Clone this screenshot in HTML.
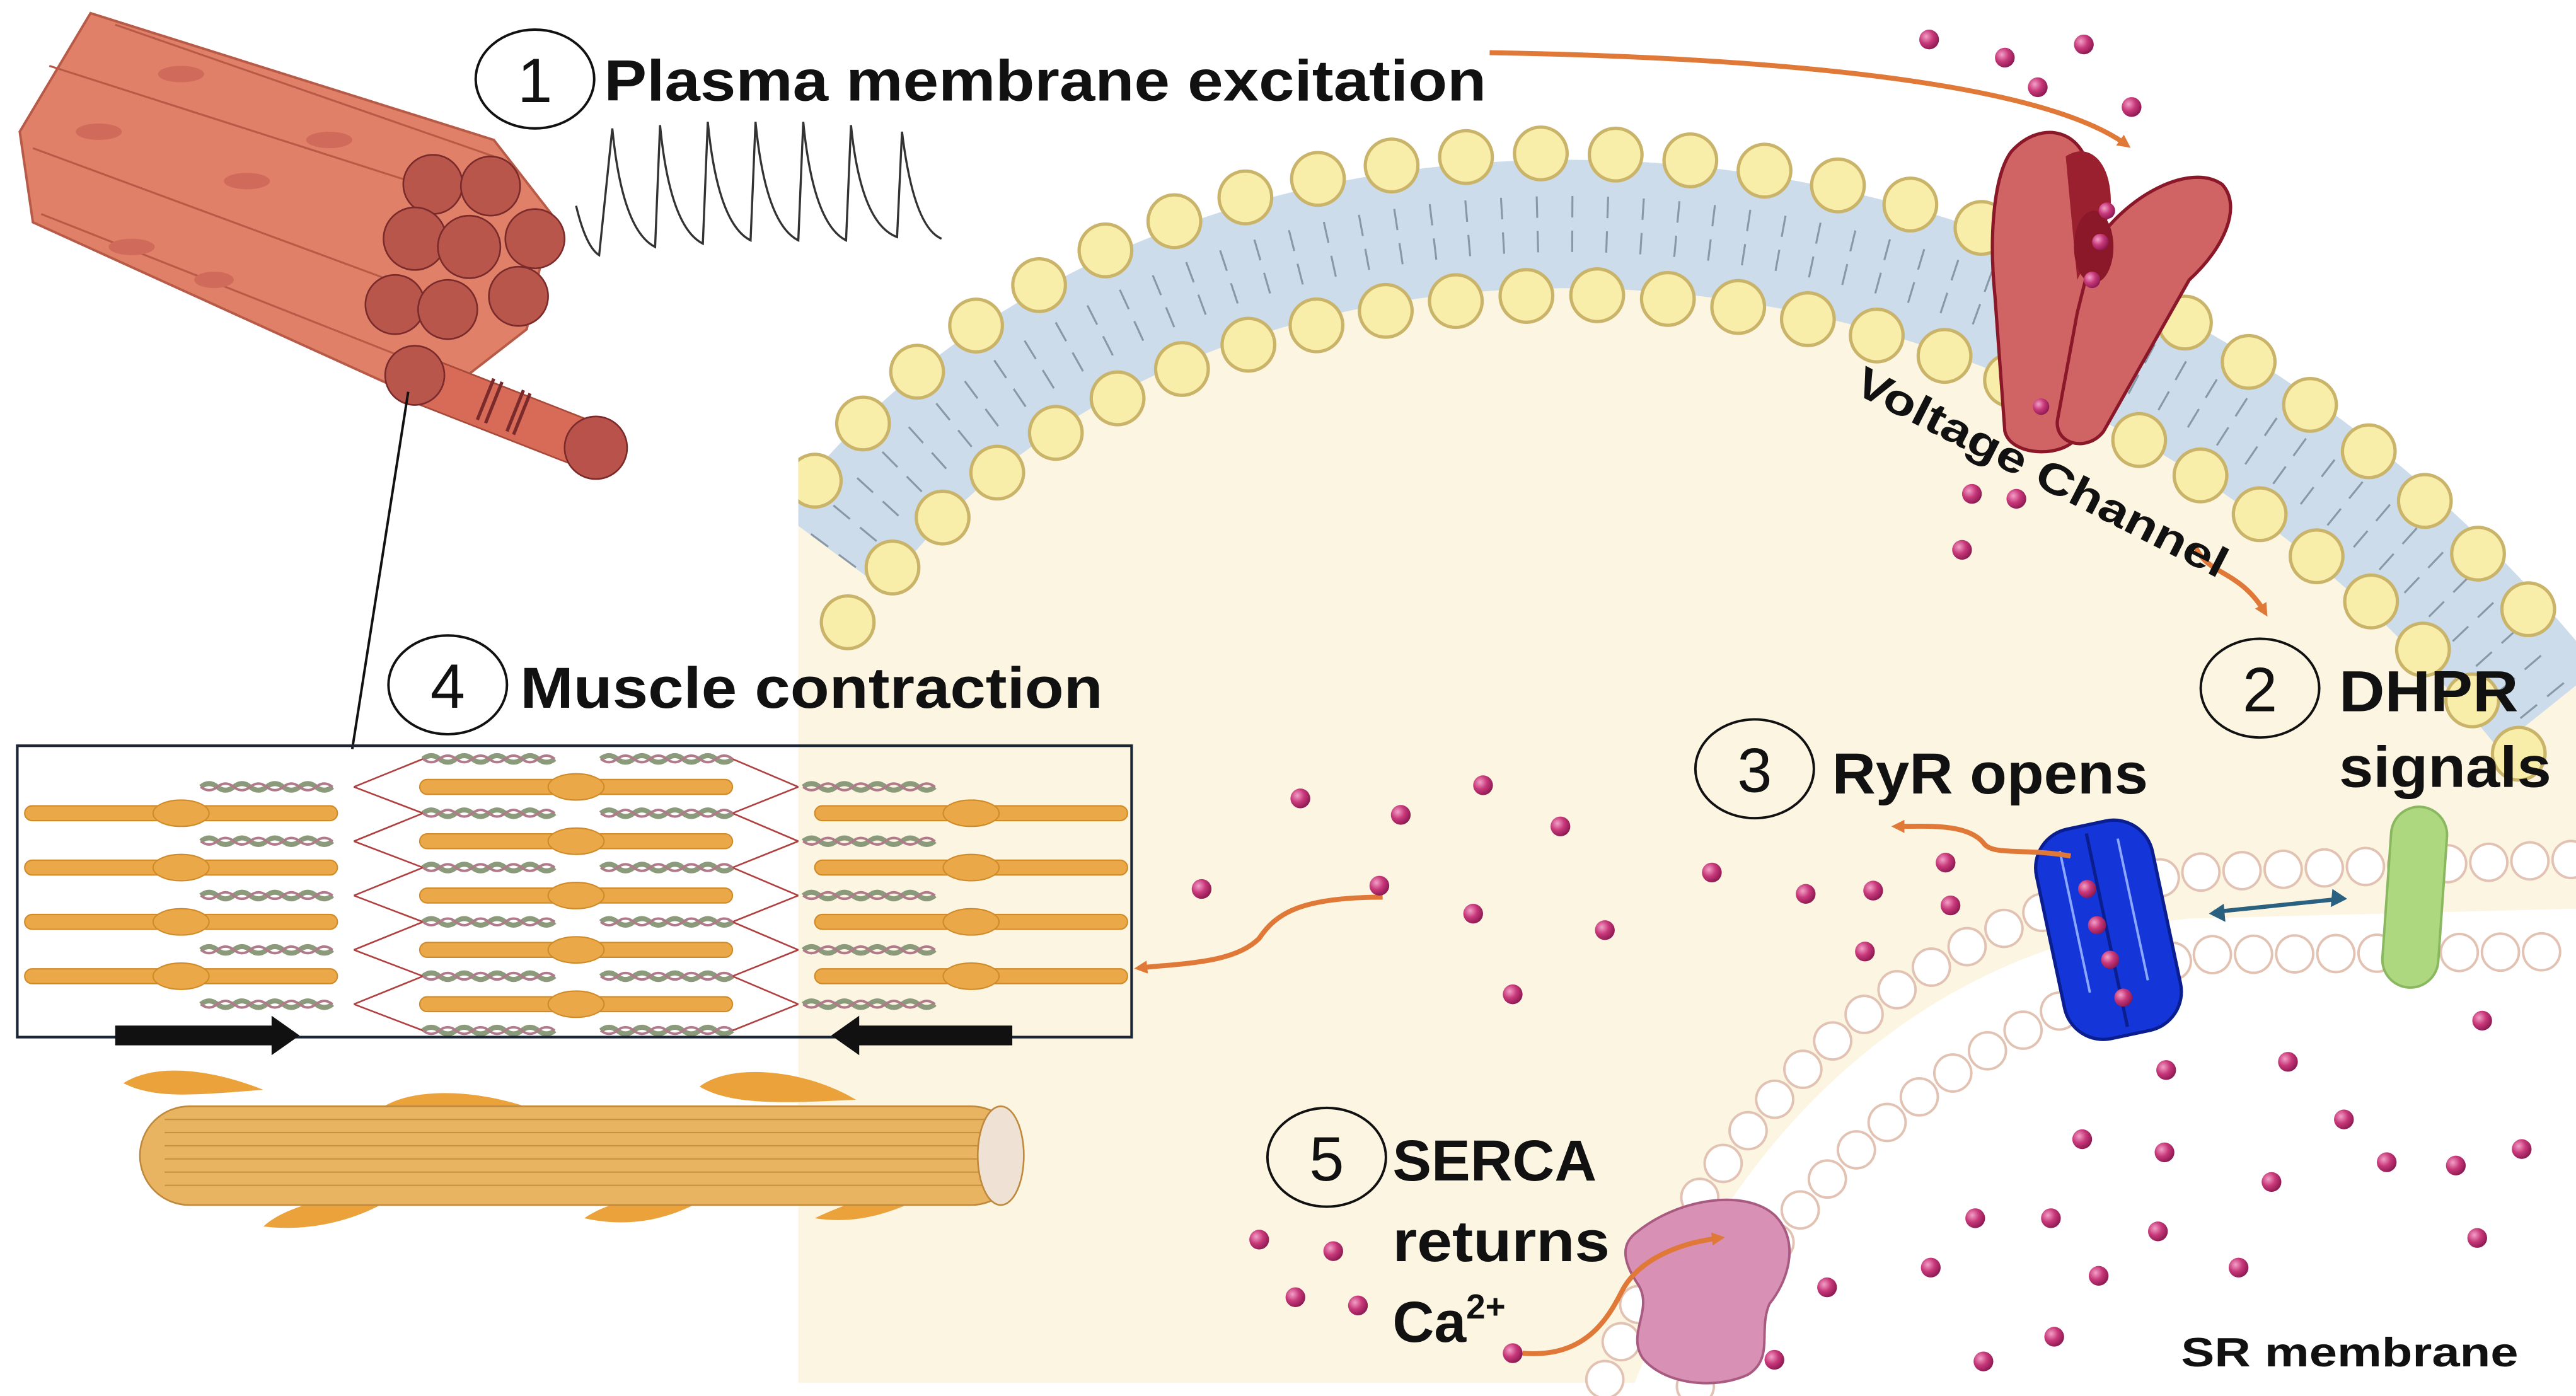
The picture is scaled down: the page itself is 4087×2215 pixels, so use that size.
<!DOCTYPE html>
<html><head><meta charset="utf-8"><style>
html,body{margin:0;padding:0;background:#fff;width:4087px;height:2215px;overflow:hidden}
svg{display:block}
text{font-family:"Liberation Sans",sans-serif;font-weight:bold;fill:#111}
</style></head><body>
<svg width="4087" height="2215" viewBox="0 0 1565 848" preserveAspectRatio="none" xmlns="http://www.w3.org/2000/svg">
<defs>
<radialGradient id="ca" cx="0.35" cy="0.35" r="0.7"><stop offset="0" stop-color="#f2a0c8"/><stop offset="0.5" stop-color="#c8387a"/><stop offset="1" stop-color="#8a1850"/></radialGradient>
<marker id="ah" markerWidth="8" markerHeight="8" refX="5" refY="4" orient="auto" markerUnits="userSpaceOnUse"><path d="M0,0 L8,4 L0,8 Z" fill="#e07838"/></marker>
<clipPath id="cr"><rect x="485" y="0" width="1080" height="848"/></clipPath>
<g id="thick"><rect x="-95" y="-4.5" width="190" height="9" rx="4.5" fill="#eaa848" stroke="#d08a28" stroke-width="0.8"/><ellipse cx="0" cy="0" rx="17" ry="8" fill="#eaa848" stroke="#d08a28" stroke-width="0.8"/></g>
<g id="thin"><path d="M0,0 q5,-4 10,0 t10,0 t10,0 t10,0 t10,0 t10,0 t10,0 t10,0" fill="none" stroke="#8a9a7a" stroke-width="3"/><path d="M0,0 q5,4 10,0 t10,0 t10,0 t10,0 t10,0 t10,0 t10,0 t10,0" fill="none" stroke="#b07a8a" stroke-width="1.5"/></g>
</defs>
<rect width="1565" height="848" fill="#fff"/>
<path d="M485 300 C700 25 1250 5 1565 405 L1565 840 L485 840 Z" fill="#fcf5e2"/>
<path d="M990 848 C1050 690 1165 575 1330 558 L1565 552 L1565 848 Z" fill="#fff"/>
<g clip-path="url(#cr)">
<path d="M506 335 C706 65 1239 45 1548 430" fill="none" stroke="#ccdcea" stroke-width="78"/>
<path d="M506 335 C706 65 1239 45 1548 430" fill="none" stroke="#5a6a7a" stroke-width="34" stroke-dasharray="1.2 20" opacity="0.6"/>
<path d="M506 335 C706 65 1239 45 1548 430" fill="none" stroke="#ccdcea" stroke-width="8"/>
<g fill="none" stroke-linecap="round">
<path d="M495 292 C700 20 1250 0 1562 402" stroke="#c9b46a" stroke-width="34" stroke-dasharray="0 45.5"/>
<path d="M495 292 C700 20 1250 0 1562 402" stroke="#f8eeaa" stroke-width="30" stroke-dasharray="0 45.5"/>
<path d="M515 378 C712 110 1228 90 1532 460" stroke="#c9b46a" stroke-width="34" stroke-dasharray="0 43"/>
<path d="M515 378 C712 110 1228 90 1532 460" stroke="#f8eeaa" stroke-width="30" stroke-dasharray="0 43"/>
</g>
</g>
<g fill="none" stroke-linecap="round">
<path d="M975 838 C1040 680 1150 560 1330 530 L1565 522" stroke="#e2c2b2" stroke-width="24" stroke-dasharray="0 25"/>
<path d="M975 838 C1040 680 1150 560 1330 530 L1565 522" stroke="#fff" stroke-width="21" stroke-dasharray="0 25"/>
<path d="M1030 842 C1080 722 1170 640 1330 580 L1565 578" stroke="#e2c2b2" stroke-width="24" stroke-dasharray="0 25"/>
<path d="M1030 842 C1080 722 1170 640 1330 580 L1565 578" stroke="#fff" stroke-width="21" stroke-dasharray="0 25"/>
</g>
<g>
<path d="M1222 92 C1240 72 1268 78 1270 110 L1262 265 C1255 278 1222 278 1218 262 L1212 180 C1208 140 1212 105 1222 92Z" fill="#d06464" stroke="#8a1828" stroke-width="2"/>
<path d="M1255 95 C1270 85 1285 100 1282 130 L1262 170 Z" fill="#9a2030"/>
<path d="M1272 150 C1290 120 1330 98 1350 112 C1362 125 1352 150 1330 170 L1278 262 C1268 275 1248 270 1250 255 L1262 190 Z" fill="#d06464" stroke="#8a1828" stroke-width="2"/>
<ellipse cx="1272" cy="150" rx="12" ry="22" fill="#8a1828"/>
<circle cx="1280" cy="128" r="5" fill="url(#ca)"/><circle cx="1276" cy="147" r="5" fill="url(#ca)"/><circle cx="1271" cy="170" r="5" fill="url(#ca)"/><circle cx="1240" cy="247" r="5" fill="url(#ca)"/>
</g>
<g transform="rotate(-12 1280 565)">
<rect x="1245" y="500" width="72" height="130" rx="24" fill="#1436d8" stroke="#0a1e90" stroke-width="2"/>
<path d="M1280 505 L1280 625" stroke="#0a1e90" stroke-width="2"/>
<path d="M1262 512 L1262 600 M1298 512 L1298 600" stroke="#8aa8ff" stroke-width="1.5"/>
</g>
<g><circle cx="1268" cy="540" r="5.5" fill="url(#ca)"/><circle cx="1274" cy="562" r="5.5" fill="url(#ca)"/><circle cx="1282" cy="583" r="5.5" fill="url(#ca)"/><circle cx="1290" cy="606" r="5.5" fill="url(#ca)"/></g>
<rect x="1450" y="490" width="34" height="110" rx="17" fill="#aed880" stroke="#8ab860" stroke-width="1.5" transform="rotate(4 1467 545)"/>
<path d="M1345 554 L1422 546" stroke="#2a6080" stroke-width="2.5"/>
<path d="M1342 555 l9 -6 l1 11 Z M1426 546 l-9 -6 l-1 11 Z" fill="#2a6080"/>
<path d="M995 748 C1020 728 1060 722 1078 738 C1095 755 1085 780 1075 792 C1068 808 1078 825 1062 835 C1040 845 1010 840 998 825 C988 810 1005 795 995 780 C985 765 985 755 995 748Z" fill="#d890b4" stroke="#a85a80" stroke-width="1.5"/>
<g fill="none" stroke="#e07838" stroke-width="3">
<path d="M905 32 C1080 35 1240 50 1292 88" marker-end="url(#ah)"/>
<path d="M1333 330 C1340 350 1360 345 1376 372" marker-end="url(#ah)"/>
<path d="M1258 520 C1230 515 1210 520 1205 512 C1195 500 1170 502 1152 502" marker-end="url(#ah)"/>
<path d="M840 545 C790 545 775 555 765 570 C750 585 720 585 692 588" marker-end="url(#ah)"/>
<path d="M925 822 C960 825 975 805 985 785 C995 765 1020 755 1045 752" marker-end="url(#ah)"/>
</g>
<g fill="url(#ca)">
<circle cx="1172" cy="24" r="6"/><circle cx="1218" cy="35" r="6"/><circle cx="1266" cy="27" r="6"/><circle cx="1238" cy="53" r="6"/><circle cx="1295" cy="65" r="6"/>
<circle cx="1198" cy="300" r="6"/><circle cx="1225" cy="303" r="6"/><circle cx="1192" cy="334" r="6"/>
<circle cx="790" cy="485" r="6"/><circle cx="851" cy="495" r="6"/><circle cx="901" cy="477" r="6"/><circle cx="948" cy="502" r="6"/>
<circle cx="730" cy="540" r="6"/><circle cx="838" cy="538" r="6"/><circle cx="895" cy="555" r="6"/><circle cx="975" cy="565" r="6"/>
<circle cx="1040" cy="530" r="6"/><circle cx="1097" cy="543" r="6"/><circle cx="1138" cy="541" r="6"/><circle cx="1182" cy="524" r="6"/><circle cx="1185" cy="550" r="6"/><circle cx="1133" cy="578" r="6"/><circle cx="919" cy="604" r="6"/>
<circle cx="1508" cy="620" r="6"/><circle cx="1316" cy="650" r="6"/><circle cx="1390" cy="645" r="6"/><circle cx="1424" cy="680" r="6"/>
<circle cx="1265" cy="692" r="6"/><circle cx="1315" cy="700" r="6"/><circle cx="1380" cy="718" r="6"/><circle cx="1450" cy="706" r="6"/><circle cx="1492" cy="708" r="6"/><circle cx="1532" cy="698" r="6"/>
<circle cx="1200" cy="740" r="6"/><circle cx="1246" cy="740" r="6"/><circle cx="1311" cy="748" r="6"/><circle cx="1360" cy="770" r="6"/><circle cx="1505" cy="752" r="6"/>
<circle cx="765" cy="753" r="6"/><circle cx="810" cy="760" r="6"/><circle cx="787" cy="788" r="6"/><circle cx="825" cy="793" r="6"/><circle cx="919" cy="822" r="6"/>
<circle cx="1110" cy="782" r="6"/><circle cx="1173" cy="770" r="6"/><circle cx="1275" cy="775" r="6"/><circle cx="1205" cy="827" r="6"/><circle cx="1248" cy="812" r="6"/><circle cx="1078" cy="826" r="6"/>
</g>
<g>
<path d="M55 8 L300 85 L335 130 L320 200 L262 245 L20 135 L12 80 Z" fill="#e08068" stroke="#b85a48" stroke-width="1.5"/>
<path d="M30 40 L280 120 M20 90 L250 175 M25 130 L240 215 M70 15 L300 95" stroke="#b85a48" stroke-width="1.2"/>
<g fill="#d06a5a"><ellipse cx="110" cy="45" rx="14" ry="5"/><ellipse cx="60" cy="80" rx="14" ry="5"/><ellipse cx="150" cy="110" rx="14" ry="5"/><ellipse cx="80" cy="150" rx="14" ry="5"/><ellipse cx="200" cy="85" rx="14" ry="5"/><ellipse cx="130" cy="170" rx="12" ry="5"/></g>
<path d="M255 215 L370 260 L355 285 L240 240 Z" fill="#d86a58" stroke="#a84a3a" stroke-width="1"/>
<path d="M300 230 L290 255 M305 232 L295 257 M318 237 L308 262 M322 239 L312 264" stroke="#7a2a2a" stroke-width="2"/>
<circle cx="362" cy="272" r="19" fill="#b8524a" stroke="#7a2a2a" stroke-width="1"/>
<g fill="#b8564c" stroke="#7a2a2a" stroke-width="1">
<circle cx="263" cy="112" r="18"/><circle cx="298" cy="113" r="18"/><circle cx="325" cy="145" r="18"/><circle cx="252" cy="145" r="19"/><circle cx="285" cy="150" r="19"/><circle cx="315" cy="180" r="18"/><circle cx="240" cy="185" r="18"/><circle cx="272" cy="188" r="18"/><circle cx="252" cy="228" r="18"/>
</g>
</g>
<path d="M350 125 Q356 150 364 155 L372 78 Q378 140 398 150 L401 76 Q407 138 427 148 L430 74 Q436 136 456 146 L459 74 Q465 136 485 146 L488 74 Q494 136 514 146 L517 76 Q523 136 545 144 L548 80 Q555 138 572 145" fill="none" stroke="#333" stroke-width="1.3"/>
<line x1="248" y1="238" x2="214" y2="455" stroke="#111" stroke-width="1.5"/>
<g>
<g stroke="#b04040" stroke-width="1" fill="none">
<path d="M215 478 L257 461 M215 478 L257 494 M215 511 L257 494 M215 511 L257 527 M215 544 L257 527 M215 544 L257 560 M215 577 L257 560 M215 577 L257 593 M215 610 L257 593 M215 610 L257 626"/>
<path d="M485 478 L445 461 M485 478 L445 494 M485 511 L445 494 M485 511 L445 527 M485 544 L445 527 M485 544 L445 560 M485 577 L445 560 M485 577 L445 593 M485 610 L445 593 M485 610 L445 626"/>
</g>
<use href="#thin" x="122" y="478"/><use href="#thin" x="122" y="511"/><use href="#thin" x="122" y="544"/><use href="#thin" x="122" y="577"/><use href="#thin" x="122" y="610"/>
<use href="#thin" x="488" y="478"/><use href="#thin" x="488" y="511"/><use href="#thin" x="488" y="544"/><use href="#thin" x="488" y="577"/><use href="#thin" x="488" y="610"/>
<use href="#thin" x="257" y="461"/><use href="#thin" x="257" y="494"/><use href="#thin" x="257" y="527"/><use href="#thin" x="257" y="560"/><use href="#thin" x="257" y="593"/><use href="#thin" x="257" y="626"/>
<use href="#thin" x="365" y="461"/><use href="#thin" x="365" y="494"/><use href="#thin" x="365" y="527"/><use href="#thin" x="365" y="560"/><use href="#thin" x="365" y="593"/><use href="#thin" x="365" y="626"/>
<g transform="translate(-170 0)"><use href="#thick" x="280" y="494"/><use href="#thick" x="280" y="527"/><use href="#thick" x="280" y="560"/><use href="#thick" x="280" y="593"/></g>
<use href="#thick" x="350" y="478"/><use href="#thick" x="350" y="511"/><use href="#thick" x="350" y="544"/><use href="#thick" x="350" y="577"/><use href="#thick" x="350" y="610"/>
<use href="#thick" x="590" y="494"/><use href="#thick" x="590" y="527"/><use href="#thick" x="590" y="560"/><use href="#thick" x="590" y="593"/>
<rect x="0" y="453" width="10" height="180" fill="#fff"/>
<rect x="10.5" y="453" width="677" height="177" fill="none" stroke="#1a2535" stroke-width="1.6"/>
<path d="M70 623 H165 V617 L182 629 L165 641 V635 H70 Z" fill="#111"/>
<path d="M615 623 H522 V617 L505 629 L522 641 V635 H615 Z" fill="#111"/>
</g>
<g>
<path d="M75 658 C95 645 130 650 160 662 C120 665 95 668 75 658Z M228 676 C245 660 290 660 330 676 C290 680 250 690 228 676Z M425 660 C445 645 490 650 520 668 C480 670 445 672 425 660Z M160 745 C180 727 220 727 258 711 C240 733 200 750 160 745Z M355 740 C375 726 410 724 440 720 C420 736 390 748 355 740Z M495 740 C520 728 550 720 578 716 C555 733 525 745 495 740Z" fill="#eba23a"/>
<rect x="85" y="672" width="535" height="60" rx="30" fill="#e8b462" stroke="#c0883a" stroke-width="1"/>
<path d="M100 680 H610 M100 688 H610 M100 696 H610 M100 704 H610 M100 712 H610 M100 720 H610" stroke="#c8903e" stroke-width="0.8"/>
<ellipse cx="608" cy="702" rx="14" ry="30" fill="#efe2d4" stroke="#c0883a" stroke-width="1"/>
</g>
<g fill="none" stroke="#111" stroke-width="1.5">
<ellipse cx="325" cy="48" rx="36" ry="30"/><ellipse cx="272" cy="416" rx="36" ry="30"/><ellipse cx="1373" cy="418" rx="36" ry="30"/><ellipse cx="1066" cy="467" rx="36" ry="30"/><ellipse cx="806" cy="703" rx="36" ry="30"/>
</g>
<text x="325" y="62" font-size="38" text-anchor="middle" style="font-weight:normal">1</text>
<text x="272" y="430" font-size="38" text-anchor="middle" style="font-weight:normal">4</text>
<text x="1373" y="432" font-size="38" text-anchor="middle" style="font-weight:normal">2</text>
<text x="1066" y="481" font-size="38" text-anchor="middle" style="font-weight:normal">3</text>
<text x="806" y="717" font-size="38" text-anchor="middle" style="font-weight:normal">5</text>
<text x="367" y="61" font-size="35" textLength="536" lengthAdjust="spacingAndGlyphs">Plasma membrane excitation</text>
<text x="316" y="430" font-size="35" textLength="354" lengthAdjust="spacingAndGlyphs">Muscle contraction</text>
<text x="1421" y="432" font-size="35" textLength="109" lengthAdjust="spacingAndGlyphs">DHPR</text>
<text x="1421" y="478" font-size="35" textLength="129" lengthAdjust="spacingAndGlyphs">signals</text>
<text x="1113" y="482" font-size="35" textLength="192" lengthAdjust="spacingAndGlyphs">RyR opens</text>
<text x="846" y="717" font-size="35" textLength="124" lengthAdjust="spacingAndGlyphs">SERCA</text>
<text x="846" y="766" font-size="35" textLength="132" lengthAdjust="spacingAndGlyphs">returns</text>
<text x="846" y="815" font-size="35">Ca<tspan font-size="21" dy="-14">2+</tspan></text>
<text x="1125" y="238" font-size="26" transform="rotate(27 1125 238)" textLength="250" lengthAdjust="spacingAndGlyphs">Voltage Channel</text>
<text x="1325" y="830" font-size="25" textLength="205" lengthAdjust="spacingAndGlyphs">SR membrane</text>
</svg>
</body></html>
